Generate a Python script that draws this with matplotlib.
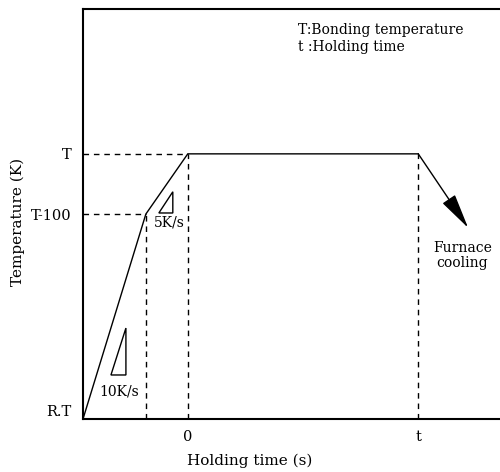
import matplotlib
matplotlib.use("Agg")
import matplotlib.pyplot as plt
from matplotlib.patches import Polygon

plt.rcParams['font.family'] = ['DejaVu Serif']

# Schematic profile (arbitrary units)
profile_time = [-2.5, -1.0, 0.0, 5.5]
profile_temp = [0.0, 0.773, 1.0, 1.0]
cool_start = (5.5, 1.0)
cool_end = (6.69, 0.721)

ytick_vals = [0.0, 0.773, 1.0]
ytick_labels = ["R.T", "T-100", "T"]
xtick_vals = [0.0, 5.5]
xtick_labels = ["0", "t"]

tri_5 = [(-0.69, 0.777), (-0.357, 0.777), (-0.357, 0.857)]
tri_10 = [(-1.833, 0.166), (-1.476, 0.166), (-1.476, 0.343)]
rate_labels = ["5K/s", "10K/s"]
rate_pos = [(-0.45, 0.74), (-1.64, 0.102)]

xlim = (-2.5, 7.45)
ylim = (0.0, 1.547)

fig = plt.figure(figsize=(5.0, 4.72), dpi=100)
ax = fig.add_axes([0.166, 0.1123, 0.834, 0.869])
ax.set_xlim(*xlim)
ax.set_ylim(*ylim)

for s in ['left', 'top', 'bottom']:
    ax.spines[s].set_linewidth(1.5)
ax.spines['right'].set_visible(False)

# main profile
ax.plot(profile_time, profile_temp, color='black', lw=1.0, solid_joinstyle='miter')

# dashed guides
dash = dict(color='black', lw=1.0, ls=(0, (4, 3.5)))
ax.plot([xlim[0], profile_time[1]], [profile_temp[1]] * 2, **dash)
ax.plot([xlim[0], profile_time[2]], [profile_temp[2]] * 2, **dash)
for xv, yv in [(profile_time[1], profile_temp[1]), (profile_time[2], profile_temp[2]), (profile_time[3], profile_temp[3])]:
    ax.plot([xv, xv], [0, yv], **dash)

# cooling arrow
ax.annotate("", xy=cool_end, xytext=cool_start,
            arrowprops=dict(arrowstyle='-|>,head_length=2.2,head_width=0.47',
                            mutation_scale=10, color='black', lw=1.0,
                            shrinkA=0, shrinkB=0))
ax.text(6.55, 0.615, "Furnace\ncooling", ha='center', va='center', fontsize=10,
        linespacing=1.1)

# slope triangles
for tri in (tri_5, tri_10):
    ax.add_patch(Polygon(tri, closed=True, fill=False, edgecolor='black', lw=1.0))
for lab, (xx, yy) in zip(rate_labels, rate_pos):
    ax.text(xx, yy, lab, ha='center', va='center', fontsize=10)

# legend text
ax.text(2.64, 1.468, "T:Bonding temperature", ha='left', va='center', fontsize=10)
ax.text(2.64, 1.404, "t :Holding time", ha='left', va='center', fontsize=10)

ax.set_yticks(ytick_vals)
ax.set_yticklabels(ytick_labels)
ax.set_xticks(xtick_vals)
ax.set_xticklabels(xtick_labels)
ax.tick_params(length=0, labelsize=10.5, pad=8)
ax.get_yticklabels()[0].set_va('bottom')

ax.set_xlabel("Holding time (s)", fontsize=11)
ax.set_ylabel("Temperature (K)", fontsize=11)
ax.yaxis.set_label_coords(-0.139, 0.48)
ax.xaxis.set_label_coords(0.4, -0.085)

fig.savefig("out.png", dpi=100)
